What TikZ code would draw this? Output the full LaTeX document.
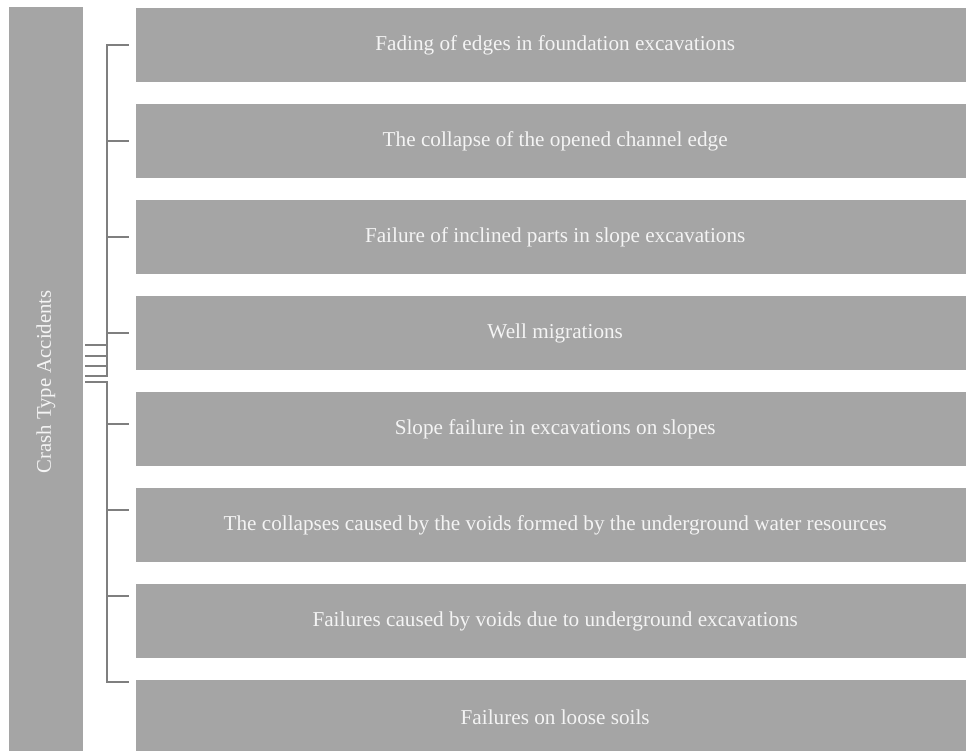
\documentclass[tikz,border=0pt]{standalone}
\usepackage{fontspec}
\setmainfont{Liberation Serif}
\definecolor{boxgray}{HTML}{A5A5A5}
\definecolor{linegray}{HTML}{7F7F7F}
\definecolor{txt}{HTML}{F4F4F4}
\begin{document}
\begin{tikzpicture}[x=1pt,y=-1pt,
  item/.style={draw=none,fill=boxgray,minimum width=838pt,minimum height=74pt,inner sep=0pt,anchor=north west,text=txt,font=\fontsize{21.2}{25}\selectfont},
  root/.style={draw=none,fill=boxgray,minimum width=74pt,minimum height=748pt,inner sep=0pt,anchor=north west},
  conn/.style={draw=linegray,line width=2pt}]
\useasboundingbox (0,0) rectangle (966,751);
\begin{scope}
\clip (0,0) rectangle (966,751);
\node[root] (r) at (9,7) {};
\node[text=txt,font=\fontsize{20.8}{25}\selectfont,rotate=90] (rt) at (46,382) {Crash Type Accidents};
\node[item] (c1) at (136,8) {Fading of edges in foundation excavations};
\node[item] (c2) at (136,104) {The collapse of the opened channel edge};
\node[item] (c3) at (136,200) {Failure of inclined parts in slope excavations};
\node[item] (c4) at (136,296) {Well migrations};
\node[item] (c5) at (136,392) {Slope failure in excavations on slopes};
\node[item] (c6) at (136,488) {The collapses caused by the voids formed by the underground water resources};
\node[item] (c7) at (136,584) {Failures caused by voids due to underground excavations};
\node[item] (c8) at (136,680) {Failures on loose soils};
\end{scope}
% connector end points
\coordinate (p1) at (85,345);
\coordinate (p2) at (85,356);
\coordinate (p3) at (85,366);
\coordinate (p4) at (85,376);
\coordinate (p5) at (85,382);
\coordinate (t1) at (129,45);
\coordinate (t2) at (129,141);
\coordinate (t3) at (129,237);
\coordinate (t4) at (129,333);
\coordinate (t5) at (129,424);
\coordinate (t6) at (129,510);
\coordinate (t7) at (129,596);
\coordinate (t8) at (129,682);
\draw[conn] (p1) -- (107,345) |- (t1);
\draw[conn] (p2) -- (107,356) |- (t2);
\draw[conn] (p3) -- (107,366) |- (t3);
\draw[conn] (p4) -- (107,376) |- (t4);
\draw[conn] (p5) -- (107,382) |- (t5);
\draw[conn] (p5) -- (107,382) |- (t6);
\draw[conn] (p5) -- (107,382) |- (t7);
\draw[conn] (p5) -- (107,382) |- (t8);
\end{tikzpicture}
\end{document}
